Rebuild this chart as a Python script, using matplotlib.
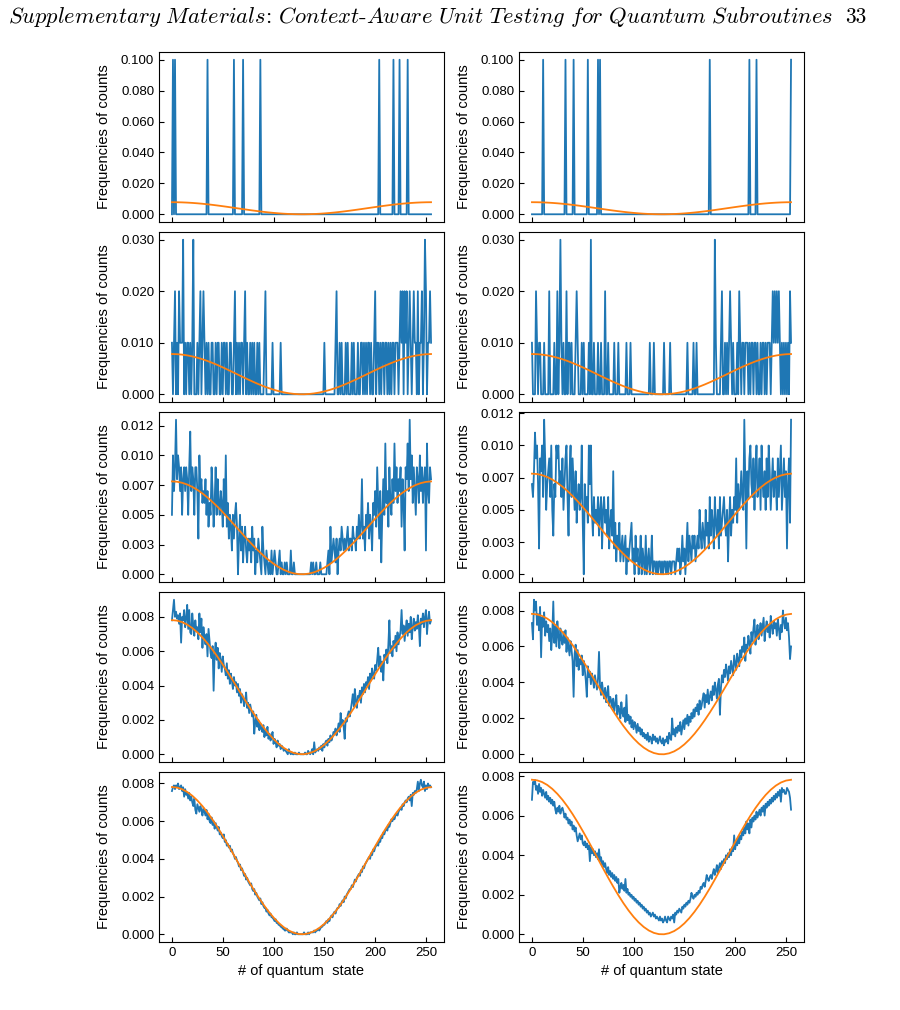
import numpy as np
import matplotlib
matplotlib.use('Agg')
import matplotlib.pyplot as plt
from matplotlib.ticker import MultipleLocator, FormatStrFormatter

plt.rcParams['font.family'] = ['Liberation Sans', 'DejaVu Sans']
plt.rcParams['mathtext.fontset'] = 'cm'

states = np.arange(256)

# ideal distribution (orange), read every 5 states, units of 1e-4
ideal_states = np.arange(0, 256, 5)
ideal_freq = np.array([
    78.13, 77.83, 76.95, 75.51, 73.51, 70.99, 68.01, 64.58, 60.76, 56.63,
    52.22, 47.62, 42.89, 38.10, 33.33, 28.64, 24.11, 19.81, 15.79, 12.13,
    8.87, 6.06, 3.75, 1.97, 0.75, 0.11, 0.05, 0.58, 1.68, 3.35,
    5.56, 8.27, 11.44, 15.03, 18.98, 23.23, 27.72, 32.38, 37.15, 41.94,
    46.68, 51.32, 55.76, 59.96, 63.84, 67.35, 70.44, 73.05, 75.15, 76.71,
    77.70, 78.11]) * 1e-4

# 10 shots: each hit state has frequency 0.1
hits_a1 = [1, 3, 35, 61, 70, 87, 204, 218, 224, 232]
hits_b1 = [11, 33, 41, 55, 65, 67, 175, 214, 221, 255]

# 100 shots: counts per state
counts_a2 = ("1012010211130101" "1010130001012012" "1010100110010110" "0101101001100120"
             "1010110120100101" "0100101000012000" "0001000000010000" "0000000000000000"
             "0000000000000000" "0000001000000000" "0120010100010100" "0101000100110101"
             "0110100120110101" "1011010101101110" "1212021201210121" "1020112013201121")
counts_b2 = ("1000210110001000" "0200001002013101" "0020110100012100" "0101000010300100"
             "0100100020010000" "0100010000000100" "0100000000000000" "0000100010000000"
             "0010000010000000" "0000000001000001" "0010000000000000" "0000310000120010"
             "1012101000102101" "1011101011011010" "0101101011101212" "1212101010101021")

# 1000 shots: counts per state (hex)
counts_a3 = ("5a79d8a979589798" "59c79859973a7867" "6857465974695865" "76485a4635425356"
             "4035241342132314" "2302132104210210" "1020121001201001" "0100020010000000"
             "0000000001010010" "0010000001204123" "2130232432323423" "3243324353483425"
             "4635426574963715" "85b67496586b7968" "79486298b7d8a697" "5986a796892b7698")
counts_b3 = ("768b9a7298a6c957" "896a5376a9a78695" "79a638a697584675" "6a407564a7a53645"
             "4635625645362453" "8241324123123021" "2341203120130210" "3012013011010110"
             "1011010110111012" "1201312024132132" "3123253243253426" "3542643526345643"
             "5146354659475686" "5c72869a76958a67" "95a768596a857968" "75968a579682794c")

# larger shot counts, frequencies in units of 1e-4
freq_a4 = [78, 84, 90, 80, 83, 79, 81, 76, 82, 65, 80, 78, 84, 74, 79, 87,
           73, 84, 71, 70, 82, 75, 69, 78, 72, 74, 67, 82, 71, 79, 62, 74,
           68, 64, 70, 57, 73, 66, 59, 56, 63, 37, 58, 65, 55, 62, 50, 59,
           55, 48, 57, 52, 50, 46, 53, 44, 49, 41, 47, 43, 38, 45, 40, 42,
           36, 41, 34, 38, 30, 35, 33, 28, 31, 36, 27, 30, 24, 29, 26, 22,
           25, 12, 19, 23, 16, 20, 14, 18, 15, 13, 17, 10, 14, 11, 16, 9,
           12, 8, 10, 13, 6, 9, 7, 4, 8, 5, 6, 3, 5, 4, 2, 3,
           2, 1, 0, 3, 1, 0, 1, 0, 0, 1, 0, 0, 0, 1, 0, 0,
           0, 0, 0, 1, 0, 0, 2, 1, 0, 1, 3, 0, 7, 1, 2, 3,
           2, 4, 3, 5, 2, 6, 4, 7, 8, 5, 9, 7, 11, 8, 10, 13,
           12, 15, 11, 14, 18, 13, 24, 17, 20, 16, 9, 21, 19, 23, 25, 22,
           26, 30, 35, 28, 38, 31, 27, 34, 33, 37, 30, 39, 35, 41, 36, 42,
           40, 45, 38, 47, 43, 50, 46, 44, 52, 49, 55, 62, 51, 57, 48, 54,
           43, 58, 55, 61, 53, 64, 78, 59, 63, 57, 66, 62, 69, 60, 71, 64,
           68, 72, 84, 70, 75, 66, 73, 78, 69, 76, 71, 80, 67, 74, 79, 72,
           77, 73, 81, 75, 63, 79, 76, 82, 74, 80, 84, 70, 78, 83, 76, 78]
freq_b4 = [73, 64, 86, 80, 85, 72, 78, 69, 82, 54, 76, 71, 79, 66, 74, 68,
           72, 63, 70, 58, 67, 85, 62, 71, 60, 74, 66, 59, 70, 64, 61, 68,
           62, 69, 57, 65, 60, 55, 63, 58, 52, 32, 56, 61, 49, 58, 47, 53,
           50, 55, 44, 52, 47, 41, 32, 49, 43, 46, 39, 45, 42, 37, 44, 40,
           36, 42, 57, 38, 33, 40, 35, 31, 37, 29, 34, 38, 27, 32, 30, 26,
           31, 24, 28, 33, 22, 27, 25, 20, 29, 23, 21, 26, 18, 33, 19, 22,
           17, 21, 15, 19, 14, 18, 16, 12, 17, 13, 15, 11, 14, 10, 12, 9,
           11, 8, 12, 7, 10, 9, 6, 11, 8, 10, 7, 9, 6, 8, 10, 7,
           6, 9, 5, 8, 7, 10, 6, 12, 9, 8, 20, 11, 14, 10, 15, 12,
           16, 13, 18, 11, 15, 19, 14, 20, 17, 22, 16, 21, 18, 23, 20, 25,
           21, 26, 24, 28, 22, 30, 25, 27, 31, 34, 26, 33, 29, 36, 28, 32,
           35, 30, 38, 33, 40, 36, 31, 39, 42, 22, 37, 44, 40, 47, 43, 50,
           46, 41, 49, 45, 52, 48, 44, 55, 51, 47, 56, 53, 49, 58, 54, 60,
           57, 65, 52, 61, 59, 66, 62, 56, 68, 63, 70, 75, 61, 67, 72, 64,
           69, 73, 66, 71, 76, 63, 70, 74, 68, 72, 65, 77, 71, 67, 74, 70,
           73, 66, 75, 70, 64, 72, 68, 80, 74, 70, 76, 69, 73, 65, 53, 60]
freq_a5 = [76, 78, 79, 77, 79, 78, 80, 77, 78, 79, 76, 78, 73, 77, 74, 75,
           72, 75, 71, 73, 70, 68, 72, 66, 64, 69, 67, 65, 68, 66, 63, 67,
           65, 63, 66, 61, 64, 60, 59, 62, 58, 60, 56, 59, 57, 55, 57, 53,
           54, 52, 51, 53, 49, 50, 47, 48, 46, 47, 44, 45, 43, 42, 40, 41,
           39, 38, 36, 37, 34, 35, 33, 31, 32, 29, 30, 28, 27, 26, 27, 24,
           23, 24, 21, 22, 20, 19, 18, 19, 16, 17, 15, 14, 14, 12, 13, 11,
           10, 11, 9, 9, 8, 7, 8, 6, 6, 5, 5, 4, 4, 3, 3, 2,
           2, 3, 2, 1, 1, 1, 1, 0, 1, 0, 0, 1, 0, 0, 0, 0,
           0, 0, 1, 0, 0, 0, 1, 0, 1, 1, 1, 1, 2, 1, 2, 2,
           3, 2, 3, 4, 4, 5, 5, 6, 7, 6, 8, 7, 9, 10, 9, 11,
           12, 11, 13, 14, 14, 16, 15, 17, 18, 17, 20, 19, 21, 22, 23, 24,
           24, 26, 25, 27, 29, 28, 30, 31, 32, 31, 34, 33, 36, 35, 37, 38,
           39, 40, 41, 40, 43, 42, 45, 44, 46, 47, 48, 47, 50, 49, 52, 51,
           54, 53, 55, 56, 55, 58, 57, 59, 61, 60, 62, 61, 63, 64, 63, 65,
           66, 67, 66, 69, 68, 70, 71, 70, 72, 73, 71, 74, 68, 75, 74, 76,
           75, 77, 81, 76, 80, 82, 79, 78, 81, 76, 79, 77, 80, 78, 79, 78]
freq_b5 = [68, 77, 76, 78, 73, 75, 71, 76, 72, 74, 70, 73, 71, 69, 72, 68,
           70, 67, 69, 66, 68, 65, 67, 63, 61, 64, 62, 65, 61, 63, 64, 62,
           59, 61, 58, 59, 56, 58, 55, 57, 53, 55, 52, 54, 50, 47, 49, 51,
           48, 50, 46, 45, 47, 44, 46, 43, 45, 37, 44, 41, 43, 40, 42, 39,
           41, 38, 43, 37, 39, 35, 37, 34, 36, 33, 31, 34, 30, 32, 29, 31,
           28, 30, 27, 29, 26, 28, 21, 24, 26, 23, 25, 22, 28, 21, 23, 20,
           21, 19, 20, 18, 19, 17, 18, 16, 17, 15, 16, 14, 15, 13, 14, 12,
           13, 11, 12, 10, 11, 9, 10, 11, 9, 10, 8, 9, 8, 7, 9, 7,
           8, 6, 7, 9, 7, 6, 9, 8, 7, 9, 8, 10, 6, 11, 10, 12,
           11, 13, 12, 11, 14, 13, 15, 14, 16, 15, 17, 16, 18, 21, 19, 18,
           20, 19, 21, 20, 22, 21, 24, 23, 25, 26, 24, 27, 30, 28, 27, 29,
           30, 28, 31, 33, 30, 32, 35, 31, 34, 36, 33, 37, 35, 38, 36, 40,
           38, 41, 39, 43, 40, 44, 42, 50, 43, 47, 45, 49, 46, 50, 48, 52,
           50, 54, 51, 57, 53, 56, 51, 58, 54, 59, 57, 60, 58, 62, 59, 61,
           63, 60, 64, 62, 65, 60, 66, 64, 67, 65, 68, 66, 69, 67, 70, 68,
           71, 69, 72, 70, 73, 67, 74, 72, 73, 71, 71, 74, 73, 72, 69, 63]


def from_hits(hits):
    f = np.zeros(256)
    f[hits] = 0.1
    return f


def from_counts(s, shots):
    return np.array([int(c, 16) for c in s]) / shots


rows = [
    (from_hits(hits_a1), from_hits(hits_b1), 0.02),
    (from_counts(counts_a2, 100), from_counts(counts_b2, 100), 0.01),
    (from_counts(counts_a3, 1000), from_counts(counts_b3, 1000), 0.0025),
    (np.array(freq_a4) * 1e-4, np.array(freq_b4) * 1e-4, 0.002),
    (np.array(freq_a5) * 1e-4, np.array(freq_b5) * 1e-4, 0.002),
]

W, H = 900, 1010
fig = plt.figure(figsize=(W / 100, H / 100), dpi=100)

for i, (left, right, step) in enumerate(rows):
    for j, freq in enumerate((left, right)):
        x0 = [159, 519][j]
        ax = fig.add_axes([x0 / W, 1 - (222 + 180 * i) / H, 285 / W, 170 / H])
        ax.plot(states, freq, color='#1f77b4', lw=1.3)
        ax.plot(ideal_states, ideal_freq, color='#ff7f0e', lw=1.3)
        ax.yaxis.set_major_locator(MultipleLocator(step))
        ax.yaxis.set_major_formatter(FormatStrFormatter('%.3f'))
        ax.set_xticks([0, 50, 100, 150, 200, 250])
        ax.tick_params(direction='in', labelsize=9.5)
        ax.set_ylabel('Frequencies of counts', fontsize=10.5, labelpad=7)
        if i < 4:
            ax.tick_params(labelbottom=False)
        else:
            ax.set_xlabel(['# of quantum  state', '# of quantum state'][j], fontsize=10.5)

header = (r'$\mathit{Supplementary\ Materials}$: $\mathit{Context}$-'
          r'$\mathit{Aware\ Unit\ Testing\ for\ Quantum\ Subroutines}$')
fig.text(8 / W, 1 - 17 / H, header, fontsize=16.2, va='center', family='cmr10')
fig.text(866 / W, 1 - 17 / H, '33', fontsize=15.5, va='center', ha='right', family='cmr10')

fig.savefig('out.png', dpi=100)
